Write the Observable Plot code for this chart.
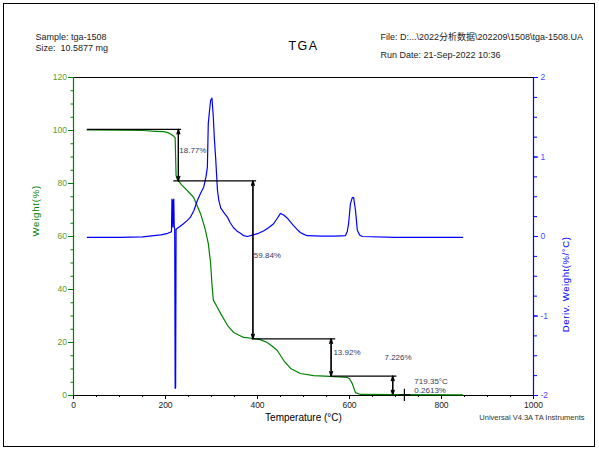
<!DOCTYPE html>
<html>
<head>
<meta charset="utf-8">
<script src="https://cdn.jsdelivr.net/npm/d3@7"></script>
<script src="https://cdn.jsdelivr.net/npm/@observablehq/plot@0.6"></script>
<style>
  html, body { margin: 0; padding: 0; background: #fff; }
  #wrap { position: relative; width: 599px; height: 452px; }
  #border { position: absolute; left: 3px; top: 3px; width: 592px; height: 444px; border: 1.5px solid #000; box-sizing: border-box; pointer-events: none; }
</style>
</head>
<body>
<div id="wrap"><div id="border"></div></div>
<script>
// ---- Weight (%) curve ----
const tempW = [30, 100, 150, 180, 196, 205, 212, 218, 221, 222, 223, 225, 235, 247, 261, 276, 286, 293, 298, 301, 304, 312, 320, 335, 348, 370, 391, 406, 421, 433, 443, 457, 472, 493, 522, 558, 595, 600, 606, 613, 624, 700, 846];
const weightPct = [100.2, 100.1, 100.0, 99.7, 99.6, 99.2, 98.6, 97.8, 97.2, 90, 83, 81.8, 79.5, 77.4, 74.8, 68.7, 63, 57.4, 50, 42, 36, 33.5, 30.9, 26.4, 23.8, 21.9, 21.5, 21.1, 20, 18.5, 17, 13.2, 10.2, 8.3, 7.5, 7.2, 6.8, 6.3, 4.5, 1.1, 0.4, 0.3, 0.26];

// ---- Deriv. Weight (%/°C) curve ----
const tempD = [30, 100, 150, 190, 205, 211, 213, 214, 215, 216, 217, 218, 219, 220, 221, 222, 223, 225, 232, 239, 247, 254, 262, 269, 276, 283, 288, 291, 293, 296, 298, 301, 304, 306, 309, 313, 316, 320, 327, 335, 341, 348, 355, 363, 370, 378, 391, 402, 413, 424, 435, 443, 450, 457, 465, 472, 478, 486, 493, 500, 508, 540, 570, 591, 595, 598, 602, 606, 609, 613, 617, 622, 628, 700, 846];
const derivVal = [-0.01, -0.01, -0.005, 0.02, 0.04, 0.055, 0.06, 0.47, 0.45, 0.12, 0.45, 0.47, 0.12, 0.1, -1.91, -1.9, 0.09, 0.1, 0.13, 0.16, 0.2, 0.24, 0.33, 0.45, 0.54, 0.62, 0.75, 0.87, 1.42, 1.6, 1.71, 1.74, 1.5, 1.25, 0.99, 0.58, 0.45, 0.36, 0.3, 0.24, 0.17, 0.11, 0.07, 0.04, 0.01, 0.0, 0.02, 0.04, 0.07, 0.11, 0.16, 0.23, 0.29, 0.27, 0.23, 0.18, 0.14, 0.09, 0.05, 0.03, 0.01, 0.005, 0.005, 0.01, 0.06, 0.16, 0.41, 0.49, 0.49, 0.33, 0.08, 0.02, 0.0, -0.01, -0.01];

// ---- Step annotations ----
const stepX1 = [30, 218, 388, 560];
const stepX2 = [235, 398, 570, 703];
const stepLevel = [100.4, 81.0, 21.4, 7.3];
const dropT = [228, 390, 560, 694];
const dropTop = [100.4, 81.0, 21.4, 7.3];
const dropBottom = [81.0, 21.4, 7.3, 0.26];
const labelText = ["18.77%", "59.84%", "13.92%", "7.226%", "719.35°C", "0.2613%"];
const labelT = [230, 392, 565, 676, 741, 741];
const labelW = [92.5, 52.8, 16.1, 14.3, 5.3, 1.8];
const residueT = [719.35];
const residueW = [0.2613];

// ---- Axis ticks ----
const xMajor = [0, 200, 400, 600, 800, 1000];
const yLeftMajor = [0, 20, 40, 60, 80, 100, 120];
const yRightMajor = [-2, -1, 0, 1, 2];

// ---- Texts ----
const headerLeft = ["Sample: tga-1508", "Size:\u00a0 10.5877 mg"];
const headerRight = ["File: D:...\\2022分析数据\\202209\\1508\\tga-1508.UA", "Run Date: 21-Sep-2022 10:36"];
const titleText = "TGA";
const xTitle = "Temperature (°C)";
const yLeftTitle = "Weight(%)";
const yRightTitle = "Deriv. Weight(%/°C)";
const creditText = "Universal V4.3A TA Instruments";

// build tables
const wData = tempW.map((t, i) => ({t, w: weightPct[i]}));
const dData = tempD.map((t, i) => ({t, d: derivVal[i]}));
const toY = d => (d + 2) * 30; // deriv -> shared y scale
const hLines = stepX1.map((x1, i) => ({x1, x2: stepX2[i], y: stepLevel[i]}));
const vArrows = dropT.map((t, i) => ({t, a: dropTop[i], b: dropBottom[i]}));
const labels = labelText.map((s, i) => ({s, t: labelT[i], w: labelW[i]}));
const residue = residueT.map((t, i) => ({t, w: residueW[i]}));

const GREEN = "#008000", BLUE = "#0000ff";

const chart = Plot.plot({
  width: 599, height: 452,
  marginLeft: 73, marginRight: 66, marginTop: 77, marginBottom: 57,
  style: {fontFamily: "'Liberation Sans', Arial, 'Noto Sans CJK SC', sans-serif", fontSize: "8.5px", background: "transparent", overflow: "visible"},
  x: {domain: [0, 1000]},
  y: {domain: [0, 120]},
  marks: [
    // axes
    Plot.axisX({ticks: d3.range(0, 1001, 50), tickSize: 2, tickFormat: () => "", label: null, stroke: "#000"}),
    Plot.axisX({ticks: xMajor, tickSize: 4, tickPadding: 2, label: null, stroke: "#000", fill: "#222", tickFormat: d => String(d)}),
    Plot.axisY({ticks: d3.range(0, 121, 5), tickSize: 2.5, tickFormat: () => "", label: null, stroke: GREEN}),
    Plot.axisY({ticks: yLeftMajor, tickSize: 5, tickPadding: 1.5, label: null, stroke: GREEN, fill: "#5c9c2c", tickFormat: d => String(d)}),
    Plot.axisY({anchor: "right", ticks: d3.range(-2, 2.001, 0.25).map(toY), tickSize: 3, tickFormat: () => "", label: null, stroke: BLUE}),
    Plot.axisY({anchor: "right", ticks: yRightMajor.map(toY), tickSize: 4, tickPadding: 3, label: null, stroke: BLUE, fill: "#4848ff", tickFormat: v => String(Math.round(v / 30 - 2))}),
    Plot.ruleY([0], {stroke: "#000", strokeWidth: 1.2}),
    Plot.ruleY([120], {stroke: "#000", strokeWidth: 1.2}),
    Plot.ruleX([0], {stroke: GREEN, strokeWidth: 1.2}),
    Plot.ruleX([1000], {stroke: BLUE, strokeWidth: 1.2}),
    // curves
    Plot.line(wData, {x: "t", y: "w", stroke: GREEN, strokeWidth: 1.2}),
    Plot.line(dData, {x: "t", y: d => toY(d.d), stroke: BLUE, strokeWidth: 1.2}),
    // step annotations
    Plot.ruleY(hLines, {y: "y", x1: "x1", x2: "x2", stroke: "#000", strokeWidth: 1.2}),
    Plot.arrow(vArrows, {x1: "t", x2: "t", y1: "b", y2: "a", stroke: "#000", strokeWidth: 1.2, headLength: 6, headAngle: 35}),
    Plot.arrow(vArrows, {x1: "t", x2: "t", y1: "a", y2: "b", stroke: "#000", strokeWidth: 1.2, headLength: 6, headAngle: 35}),
    Plot.dot(residue, {x: "t", y: "w", symbol: "plus", r: 4, stroke: "#000", strokeWidth: 1.2}),
    Plot.text(labels, {x: "t", y: "w", text: "s", textAnchor: "start", fill: "#3a3a58", fontSize: 8}),
    // titles & header
    Plot.text([yLeftTitle], {frameAnchor: "left", dx: -38, rotate: -90, fill: GREEN, fontSize: 9.5}),
    Plot.text([yRightTitle], {frameAnchor: "right", dx: 32, rotate: -90, fill: BLUE, fontSize: 9.5}),
    Plot.text([xTitle], {frameAnchor: "bottom", dy: 25, fill: "#000", fontSize: 10}),
    Plot.text([creditText], {frameAnchor: "bottom-right", dx: 51, dy: 24, textAnchor: "end", fill: "#333", fontSize: 7.5}),
    Plot.text([titleText], {frameAnchor: "top", dy: -36, fill: "#000", fontSize: 12.5}),
    Plot.text([headerLeft[0]], {frameAnchor: "top-left", dx: -38, dy: -44, textAnchor: "start", fill: "#222", fontSize: 9}),
    Plot.text([headerLeft[1]], {frameAnchor: "top-left", dx: -38, dy: -33, textAnchor: "start", fill: "#222", fontSize: 9}),
    Plot.text([headerRight[0]], {frameAnchor: "top-left", dx: 307, dy: -44, textAnchor: "start", fill: "#222", fontSize: 9}),
    Plot.text([headerRight[1]], {frameAnchor: "top-left", dx: 307, dy: -26, textAnchor: "start", fill: "#222", fontSize: 9})
  ]
});

// letter spacing tweaks on titles
d3.select(chart).selectAll("text").each(function() {
  const s = this.textContent;
  if (s === yLeftTitle) this.setAttribute("letter-spacing", "0.8");
  if (s === yRightTitle) this.setAttribute("letter-spacing", "0.6");
  if (s === titleText) this.setAttribute("letter-spacing", "1.5");
});
document.getElementById("wrap").prepend(chart);
chart.style.position = "absolute";
chart.style.left = "0";
chart.style.top = "0";
</script>
</body>
</html>
